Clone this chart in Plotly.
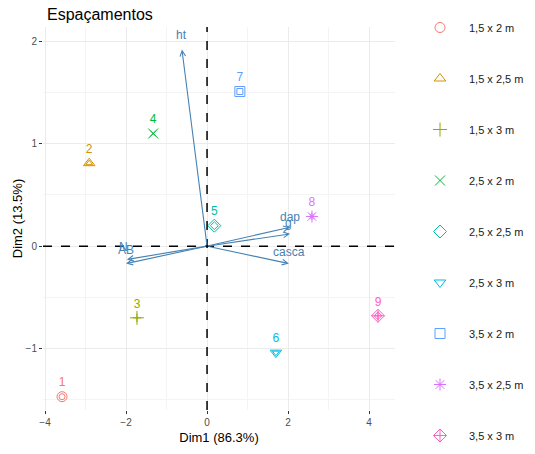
import plotly.graph_objects as go

# Individuals (PCA scores)
ind_labels = ["1", "2", "3", "4", "5", "6", "7", "8", "9"]
groups = ["1,5 x 2 m", "1,5 x 2,5 m", "1,5 x 3 m", "2,5 x 2 m", "2,5 x 2,5 m",
          "2,5 x 3 m", "3,5 x 2 m", "3,5 x 2,5 m", "3,5 x 3 m"]
dim1 = [-3.58, -2.91, -1.73, -1.33, 0.18, 1.70, 0.81, 2.59, 4.22]
dim2 = [-1.47, 0.81, -0.70, 1.10, 0.20, -1.04, 1.51, 0.29, -0.68]
colors = ["#F8766D", "#D39200", "#93AA00", "#00BA38", "#00C19F",
          "#00B9E3", "#619CFF", "#DB72FB", "#FF61C3"]
symbols = ["circle-open", "triangle-up-open", "cross-thin-open", "x-thin-open",
           "diamond-open", "triangle-down-open", "square-open", "asterisk-open",
           "diamond-cross-open"]

# Variables (loadings)
var_names = ["ht", "dap", "g", "casca", "AB", "N"]
var_x = [-0.62, 2.05, 2.05, 2.02, -2.0, -1.98]
var_y = [1.92, 0.185, 0.12, -0.17, -0.17, -0.13]
var_lab_x = [-0.62, 2.05, 2.0, 2.02, -2.0, -2.06]
var_lab_y = [2.06, 0.28, 0.23, -0.06, -0.04, -0.01]

fig = go.Figure()

for i in range(len(ind_labels)):
    fig.add_trace(go.Scatter(
        x=[dim1[i]], y=[dim2[i]], mode="markers", name=groups[i],
        legendgroup=groups[i],
        marker=dict(symbol=symbols[i], size=10, color=colors[i],
                    line=dict(width=1, color=colors[i])),
    ))
    fig.add_trace(go.Scatter(
        x=[dim1[i]], y=[dim2[i]], mode="markers", showlegend=False,
        legendgroup=groups[i], hoverinfo="skip",
        marker=dict(symbol=symbols[i], size=6, color=colors[i],
                    line=dict(width=1, color=colors[i])),
    ))
    fig.add_trace(go.Scatter(
        x=[dim1[i]], y=[dim2[i]], mode="markers+text", text=[ind_labels[i]],
        textposition="top center", showlegend=False, hoverinfo="skip",
        marker=dict(size=10, color="rgba(0,0,0,0)"),
        textfont=dict(color=colors[i], size=12),
    ))

annotations = []
for i, nm in enumerate(var_names):
    annotations.append(dict(
        x=var_x[i], y=var_y[i], ax=0, ay=0, xref="x", yref="y",
        axref="x", ayref="y", showarrow=True, arrowhead=5, arrowsize=1,
        arrowwidth=1.1, arrowcolor="#4682B4", text="",
    ))
    annotations.append(dict(
        x=var_lab_x[i], y=var_lab_y[i], xref="x", yref="y", showarrow=False,
        text=nm, font=dict(color="#4682B4", size=12),
    ))

fig.update_layout(
    width=535, height=454,
    margin=dict(l=43, r=140, t=27, b=44),
    paper_bgcolor="white", plot_bgcolor="white",
    font=dict(family="Liberation Sans, Arial, sans-serif", color="#000000"),
    title=dict(text="Espaçamentos", x=47 / 535, xanchor="left", y=1 - 14 / 454,
               yanchor="middle", font=dict(size=16, color="#000000")),
    annotations=annotations,
    shapes=[
        dict(type="line", xref="x", yref="paper", x0=0, x1=0, y0=0, y1=1,
             line=dict(color="#000000", width=1.5, dash="dash"), layer="above"),
        dict(type="line", xref="paper", yref="y", x0=0, x1=1, y0=0, y1=0,
             line=dict(color="#000000", width=1.5, dash="dash"), layer="above"),
    ],
    legend=dict(x=411 / 535, xref="container", y=1 - 13 / 454, yref="container",
                xanchor="left", yanchor="top", maxheight=454,
                font=dict(size=11, color="#1a1a1a"), tracegroupgap=32,
                itemwidth=48, bgcolor="rgba(0,0,0,0)"),
    showlegend=True,
)

fig.update_xaxes(
    range=[-4.05, 4.64], tick0=0, dtick=2, showgrid=True, gridcolor="#EBEBEB",
    gridwidth=1, zeroline=False, ticks="outside", ticklen=3, tickcolor="#333333",
    tickfont=dict(size=10, color="#4D4D4D"), showline=False, automargin=False,
    minor=dict(dtick=1, tick0=0, showgrid=True, gridcolor="#F4F4F4", gridwidth=1),
    title=dict(text="Dim1 (86.3%)", font=dict(size=13), standoff=5),
)
fig.update_yaxes(
    range=[-1.6, 2.14], tick0=0, dtick=1, showgrid=True, gridcolor="#EBEBEB",
    gridwidth=1, zeroline=False, ticks="outside", ticklen=3, tickcolor="#333333",
    tickfont=dict(size=10, color="#4D4D4D"), showline=False, automargin=False,
    minor=dict(dtick=0.5, tick0=0, showgrid=True, gridcolor="#F4F4F4", gridwidth=1),
    title=dict(text="Dim2 (13.5%)", font=dict(size=13), standoff=0),
)

fig.write_html("out.html", config={"displayModeBar": False},
               post_script="document.body.style.margin='0px';")
